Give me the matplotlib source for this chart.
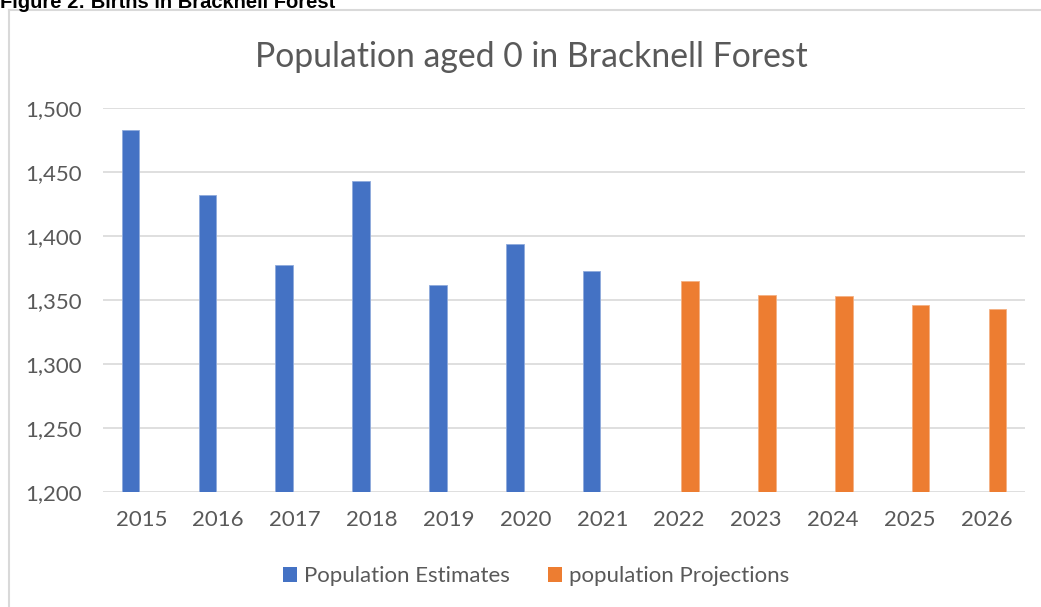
import matplotlib
matplotlib.use("Agg")
import matplotlib.pyplot as plt
import numpy as np
from matplotlib.patches import Patch
from matplotlib.lines import Line2D

# Values
years = ["2015", "2016", "2017", "2018", "2019", "2020", "2021",
         "2022", "2023", "2024", "2025", "2026"]
estimates = [1483, 1432, 1377, 1443, 1362, 1394, 1373]
projections = [1365, 1354, 1353, 1346, 1343]
y_ticks = [1200, 1250, 1300, 1350, 1400, 1450, 1500]

BLUE = "#4472C4"
ORANGE = "#ED7D31"
TEXT = "#595959"
GRID = "#D9D9D9"

plt.rcParams['font.family'] = ['Lato', 'DejaVu Sans']

fig = plt.figure(figsize=(10.41, 6.07), dpi=100)
ax = fig.add_axes([103 / 1041, 1 - 492 / 607, (1025 - 103) / 1041, (492 - 108) / 607])

x = np.arange(len(years))
w = 0.23
ax.bar(x[:len(estimates)] - 0.14, estimates, width=w, color=BLUE,
       edgecolor="#8FAADC", linewidth=0.6, zorder=3)
ax.bar(x[len(estimates):] + 0.14, projections, width=w, color=ORANGE,
       edgecolor="#F4B183", linewidth=0.6, zorder=3)

ax.set_xlim(-0.5, len(years) - 0.5)
ax.set_ylim(1200, 1500)
ax.set_yticks(y_ticks)
ax.set_yticklabels([f"{v:,}" for v in y_ticks])
ax.set_xticks(x)
ax.set_xticklabels(years)
ax.tick_params(axis='y', length=0, pad=15, labelsize=16, labelcolor=TEXT)
ax.tick_params(axis='x', length=0, pad=13, labelsize=16, labelcolor=TEXT)
ax.grid(axis='y', color=GRID, linewidth=1.2, zorder=0)
for s in ax.spines.values():
    s.set_visible(False)

# chart title, centred on the chart area
fig.text(531 / 1041, 1 - 67 / 607, "Population aged 0 in Bracknell Forest", fontsize=24.3,
         color=TEXT, ha='center', va='baseline')

# chart area border (left and top visible)
fig.add_artist(Line2D([9 / 1041, 9 / 1041], [0, 1 - 10 / 607], transform=fig.transFigure,
                      color=GRID, linewidth=1.5))
fig.add_artist(Line2D([9 / 1041, 1], [1 - 10 / 607, 1 - 10 / 607], transform=fig.transFigure,
                      color=GRID, linewidth=1.5))

# figure caption, cut off at the top edge
fig.text(0.0, 1 - 7.5 / 607, "Figure 2: Births in Bracknell Forest", fontsize=14.5,
         fontweight='bold', family=['Liberation Sans', 'DejaVu Sans'], va='baseline')

handles = [Patch(facecolor=BLUE, label="Population Estimates"),
           Patch(facecolor=ORANGE, label="population Projections")]
fig.legend(handles=handles, loc='center', bbox_to_anchor=(0.515, 1 - 576 / 607), ncol=2,
           frameon=False, fontsize=16, labelcolor=TEXT, handlelength=0.64, handleheight=0.64,
           handletextpad=0.3, columnspacing=1.7)

fig.savefig("out.png", dpi=100)
